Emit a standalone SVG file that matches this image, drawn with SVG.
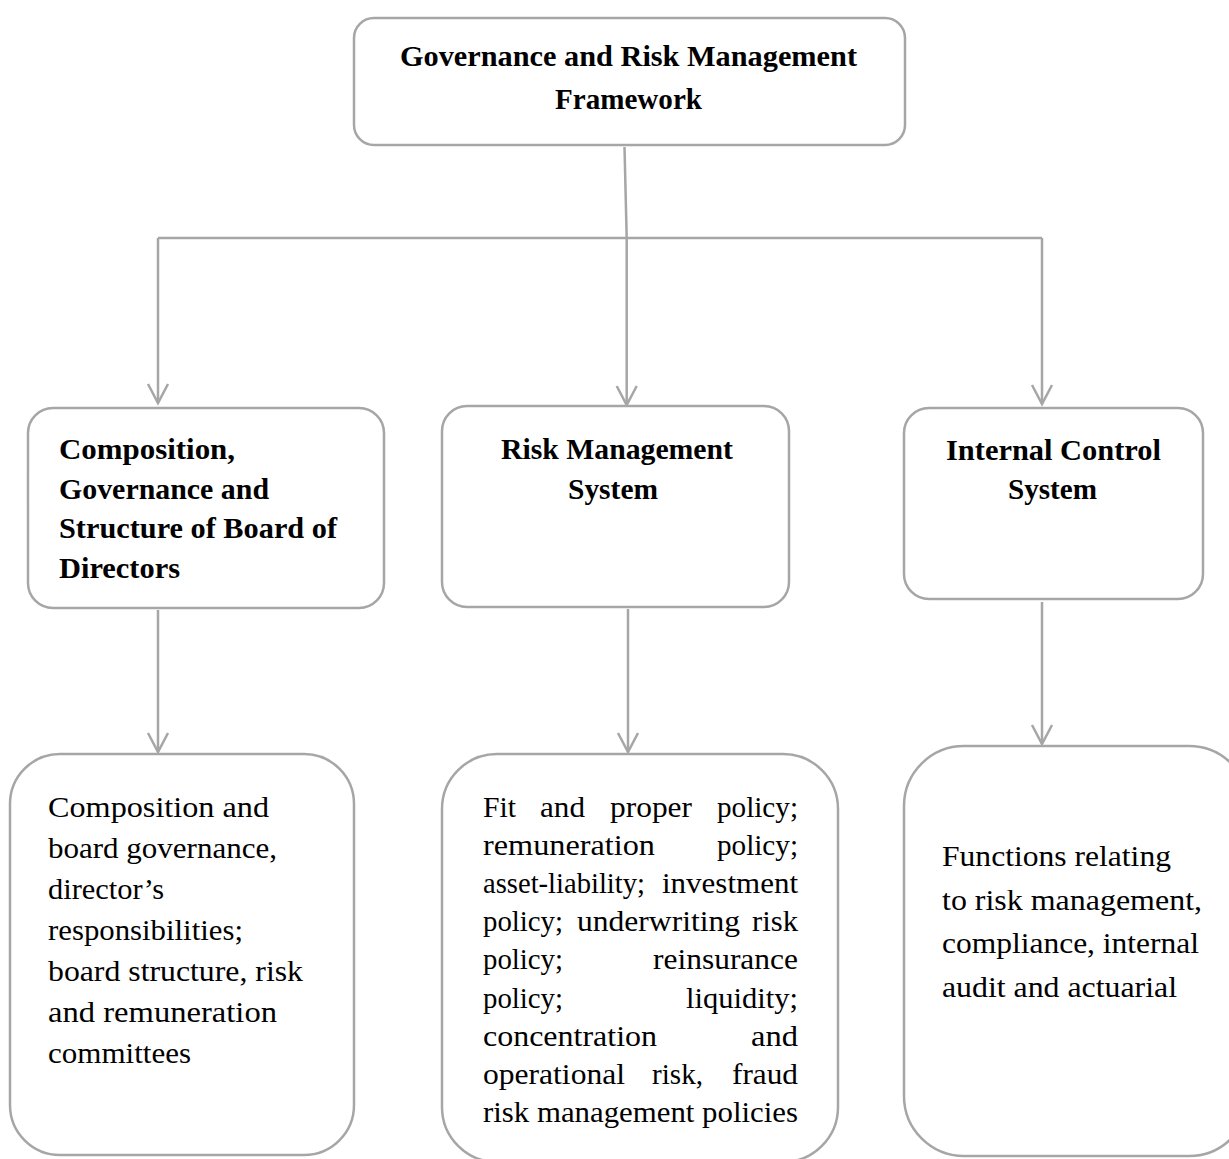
<svg xmlns="http://www.w3.org/2000/svg" width="1229" height="1159" viewBox="0 0 1229 1159">
<style>
.box{fill:#ffffff;stroke:#a6a6a6;stroke-width:2.5}
.con{fill:none;stroke:#a6a6a6;stroke-width:2.5}
text{font-family:"Liberation Serif","Times New Roman",serif;font-size:29px;fill:#000}
.b{font-weight:bold}
</style>
<defs>
<marker id="arr" markerUnits="userSpaceOnUse" markerWidth="24" markerHeight="24" viewBox="-20 -12 22 24" refX="0" refY="0" orient="auto" overflow="visible">
<path d="M-19,-10 L0,0 L-19,10" fill="none" stroke="#a6a6a6" stroke-width="2.5"/>
</marker>
</defs>
<rect width="1229" height="1159" fill="#ffffff"/>
<g id="connectors">
<path class="con" d="M624.5,147 L626.7,238"/>
<path class="con" d="M158,238 L1042,238"/>
<path class="con" d="M158,238 L158,403" marker-end="url(#arr)"/>
<path class="con" d="M626.7,238 L626.7,405" marker-end="url(#arr)"/>
<path class="con" d="M1042,238 L1042,404" marker-end="url(#arr)"/>
<path class="con" d="M158,610 L158,752" marker-end="url(#arr)"/>
<path class="con" d="M628,609 L628,752" marker-end="url(#arr)"/>
<path class="con" d="M1042,602 L1042,744" marker-end="url(#arr)"/>
</g>
<g id="top">
<rect class="box" x="354" y="18" width="551" height="127" rx="20"/>
<text class="b" x="400" y="66" textLength="457" lengthAdjust="spacingAndGlyphs">Governance and Risk Management</text>
<text class="b" x="555" y="109" textLength="147" lengthAdjust="spacingAndGlyphs">Framework</text>
</g>
<g id="board">
<rect class="box" x="28" y="408" width="356" height="200" rx="25"/>
<text class="b" x="59" y="459" textLength="176" lengthAdjust="spacingAndGlyphs">Composition,</text>
<text class="b" x="59" y="499" textLength="210" lengthAdjust="spacingAndGlyphs">Governance and</text>
<text class="b" x="59" y="538" textLength="278" lengthAdjust="spacingAndGlyphs">Structure of Board of</text>
<text class="b" x="59" y="578" textLength="121" lengthAdjust="spacingAndGlyphs">Directors</text>
</g>
<g id="rms">
<rect class="box" x="442" y="406" width="347" height="201" rx="25"/>
<text class="b" x="501" y="459" textLength="232" lengthAdjust="spacingAndGlyphs">Risk Management</text>
<text class="b" x="568" y="499" textLength="90" lengthAdjust="spacingAndGlyphs">System</text>
</g>
<g id="ics">
<rect class="box" x="904" y="408" width="299" height="191" rx="25"/>
<text class="b" x="946" y="460" textLength="215" lengthAdjust="spacingAndGlyphs">Internal Control</text>
<text class="b" x="1008" y="499" textLength="89" lengthAdjust="spacingAndGlyphs">System</text>
</g>
<g id="board-detail">
<rect class="box" x="10" y="754" width="344" height="401" rx="50"/>
<text x="48" y="817" textLength="221" lengthAdjust="spacingAndGlyphs">Composition and</text>
<text x="48" y="858" textLength="229" lengthAdjust="spacingAndGlyphs">board governance,</text>
<text x="48" y="899" textLength="116" lengthAdjust="spacingAndGlyphs">director’s</text>
<text x="48" y="940" textLength="195" lengthAdjust="spacingAndGlyphs">responsibilities;</text>
<text x="48" y="981" textLength="255" lengthAdjust="spacingAndGlyphs">board structure, risk</text>
<text x="48" y="1022" textLength="229" lengthAdjust="spacingAndGlyphs">and remuneration</text>
<text x="48" y="1063" textLength="143" lengthAdjust="spacingAndGlyphs">committees</text>
</g>
<g id="rms-detail">
<rect class="box" x="442" y="754" width="396" height="408" rx="55"/>
<text y="817"><tspan x="483" textLength="33" lengthAdjust="spacingAndGlyphs">Fit</tspan> <tspan x="540" textLength="45" lengthAdjust="spacingAndGlyphs">and</tspan> <tspan x="610" textLength="82" lengthAdjust="spacingAndGlyphs">proper</tspan> <tspan x="717" textLength="81" lengthAdjust="spacingAndGlyphs">policy;</tspan></text>
<text y="855"><tspan x="483" textLength="172" lengthAdjust="spacingAndGlyphs">remuneration</tspan> <tspan x="717" textLength="81" lengthAdjust="spacingAndGlyphs">policy;</tspan></text>
<text y="893"><tspan x="483" textLength="162" lengthAdjust="spacingAndGlyphs">asset-liability;</tspan> <tspan x="662" textLength="136" lengthAdjust="spacingAndGlyphs">investment</tspan></text>
<text y="931"><tspan x="483" textLength="80" lengthAdjust="spacingAndGlyphs">policy;</tspan> <tspan x="577" textLength="163" lengthAdjust="spacingAndGlyphs">underwriting</tspan> <tspan x="752" textLength="46" lengthAdjust="spacingAndGlyphs">risk</tspan></text>
<text y="969"><tspan x="483" textLength="80" lengthAdjust="spacingAndGlyphs">policy;</tspan> <tspan x="653" textLength="145" lengthAdjust="spacingAndGlyphs">reinsurance</tspan></text>
<text y="1008"><tspan x="483" textLength="80" lengthAdjust="spacingAndGlyphs">policy;</tspan> <tspan x="686" textLength="112" lengthAdjust="spacingAndGlyphs">liquidity;</tspan></text>
<text y="1046"><tspan x="483" textLength="174" lengthAdjust="spacingAndGlyphs">concentration</tspan> <tspan x="751" textLength="47" lengthAdjust="spacingAndGlyphs">and</tspan></text>
<text y="1084"><tspan x="483" textLength="142" lengthAdjust="spacingAndGlyphs">operational</tspan> <tspan x="652" textLength="51" lengthAdjust="spacingAndGlyphs">risk,</tspan> <tspan x="732" textLength="66" lengthAdjust="spacingAndGlyphs">fraud</tspan></text>
<text x="483" y="1122" textLength="315" lengthAdjust="spacingAndGlyphs">risk management policies</text>
</g>
<g id="ics-detail">
<rect class="box" x="904" y="746" width="345" height="410" rx="60"/>
<text x="942" y="866" textLength="229" lengthAdjust="spacingAndGlyphs">Functions relating</text>
<text x="942" y="910" textLength="260" lengthAdjust="spacingAndGlyphs">to risk management,</text>
<text x="942" y="953" textLength="257" lengthAdjust="spacingAndGlyphs">compliance, internal</text>
<text x="942" y="997" textLength="235" lengthAdjust="spacingAndGlyphs">audit and actuarial</text>
</g>
</svg>
